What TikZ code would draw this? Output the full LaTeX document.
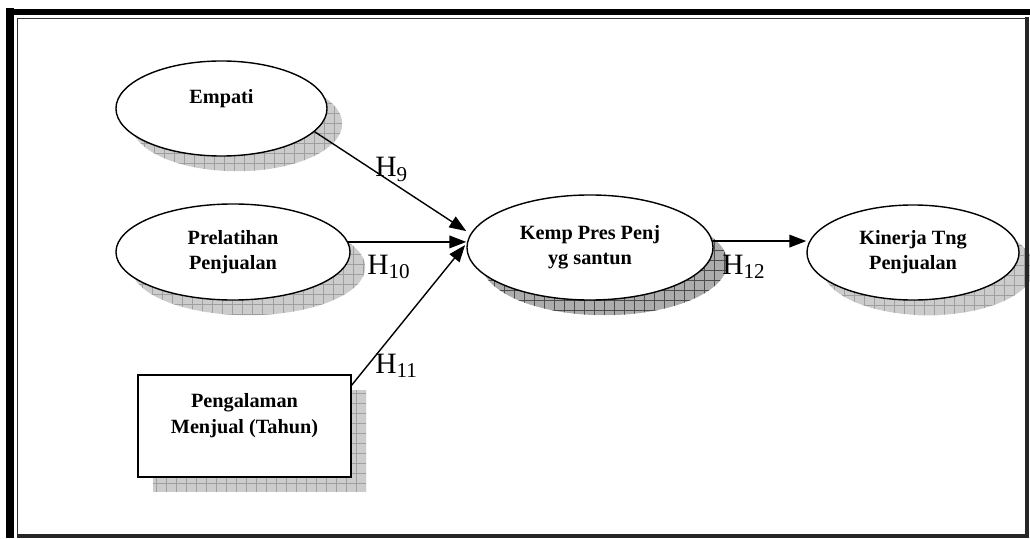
\documentclass[tikz,border=0pt]{standalone}
\usepackage{fontspec}
\setmainfont{Liberation Serif}
\usetikzlibrary{arrows.meta,shapes.geometric,shadows,positioning}

\newcommand{\hyp}[1]{H\raisebox{-3.5pt}{\fontsize{15}{15}\selectfont #1}}

\begin{document}
\begin{tikzpicture}[
x=0.025cm, y=-0.025cm,
font=\bfseries\fontsize{14.4}{17.8}\selectfont,
latent/.style={ellipse, draw, line width=1pt, fill=white, inner sep=0pt, align=center},
observed/.style={rectangle, draw, line width=1pt, fill=white, inner sep=0pt, align=center},
hatch/.style={drop shadow={shadow xshift=0.38cm, shadow yshift=-0.38cm, opacity=1, fill=gray!40,
    path picture={\draw[gray!75, line width=0.5pt, step=0.25cm] (path picture bounding box.south west) grid (path picture bounding box.north east);}}},
hatchdark/.style={drop shadow={shadow xshift=0.36cm, shadow yshift=-0.38cm, opacity=1, fill=gray!65,
    path picture={\draw[black!70, line width=0.5pt, step=0.25cm] (path picture bounding box.south west) grid (path picture bounding box.north east);}}},
link/.style={-{Triangle[length=12pt,width=9pt]}, line width=1pt},
hlabel/.style={font=\fontsize{21}{21}\selectfont, inner sep=0pt, anchor=base west}
]
    \useasboundingbox (0,0) rectangle (1030,538);

    % Constructs
    \node[latent, hatch, minimum width=5.275cm, minimum height=2.375cm] (empati) at (221.5,108.5) {Empati\\\mbox{}};
    \node[latent, hatch, minimum width=5.85cm, minimum height=2.4cm] (prel) at (233,252) {Prelatihan\\Penjualan};
    \node[observed, hatch, minimum width=5.325cm, minimum height=2.55cm] (peng) at (244.5,426) {Pengalaman\\Menjual (Tahun)\\\mbox{}};
    \node[latent, hatchdark, minimum width=6.15cm, minimum height=2.625cm] (kemp) at (590,247.5) {Kemp Pres Penj\\yg santun};
    \node[latent, hatch, minimum width=5.3cm, minimum height=2.375cm] (kin) at (913,252.5) {Kinerja Tng\\Penjualan};

    % Arrow tips at the left of kemp
    \coordinate (tipA) at ([yshift=0.41cm]kemp.west);
    \coordinate (tipB) at ([yshift=0.16cm]kemp.west);
    \coordinate (tipC) at ([xshift=-0.03cm, yshift=0.06cm]kemp.west);

    \draw[link] (empati.-14) -- (tipA);
    \draw[link] (prel.5.5) -- (prel.5.5 -| tipB);
    \draw[link] ([yshift=-0.27cm]peng.north east) -- (tipC);
    \draw[link] (kemp.3) -- (kemp.3 -| kin.west);

    % Hypotheses
    \node[hlabel] (h9) at (375,177) {\hyp{9}};
    \node[hlabel] (h10) at (367,274) {\hyp{10}};
    \node[hlabel] (h11) at (375,373) {\hyp{11}};
    \node[hlabel] (h12) at (722,274) {\hyp{12}};

    % Page border
    \draw[line width=0.2cm] (10,538) -- (10,8);
    \draw[line width=0.15cm] (6,12) -- (1030,12);
    \draw[line width=0.8pt, black!80] (17.5,535) -- (17.5,18.5) -- (1025.5,18.5);
    \draw[line width=2.2pt, black!85] (1027,17) -- (1027,536) -- (17,536);

\end{tikzpicture}
\end{document}
